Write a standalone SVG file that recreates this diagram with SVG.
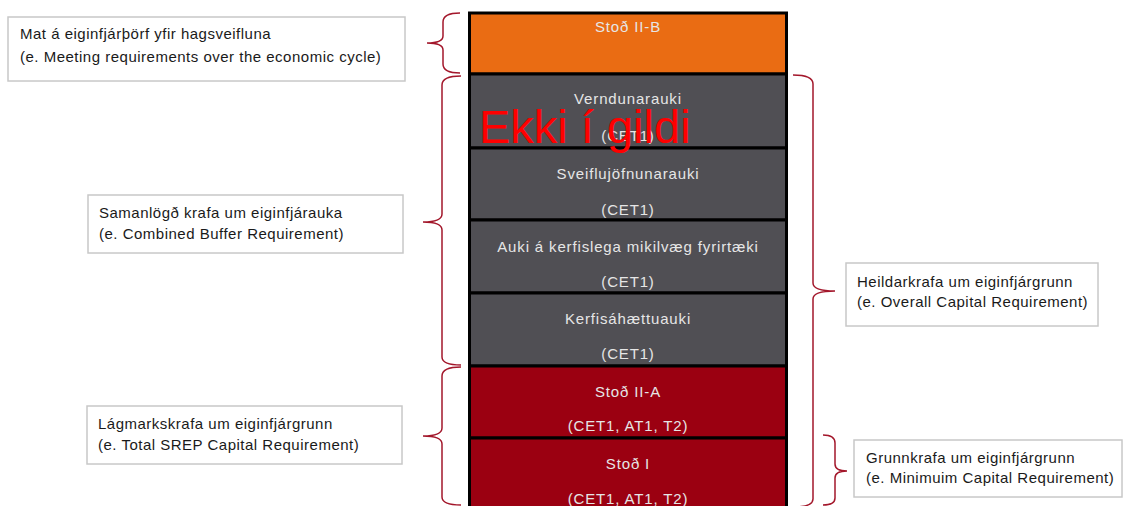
<svg xmlns="http://www.w3.org/2000/svg" width="1123" height="506" viewBox="0 0 1123 506">
<style>
.blk{stroke:#000;stroke-width:3}
.bt{font-family:"Liberation Sans",Arial,sans-serif;font-size:15px;letter-spacing:0.85px;fill:#e6e6e6;text-anchor:middle}
.lbl{fill:#fff;stroke:#c8c8c8;stroke-width:1.5}
.lt{font-family:"Liberation Sans",Arial,sans-serif;font-size:15px;letter-spacing:0.5px;fill:#1a1a1a}
.br{fill:none;stroke:#a3172b;stroke-width:1.5}
</style>
<rect width="1123" height="506" fill="#fff"/>
<g id="stack">
<g id="stod2b"><rect class="blk" x="469.5" y="13" width="317" height="61" fill="#ea6c13"/><text class="bt" x="628" y="32">Stoð II-B</text></g>
<g id="verndunarauki"><rect class="blk" x="469.5" y="74" width="317" height="74" fill="#504f54"/><text class="bt" x="628" y="104">Verndunarauki</text><text class="bt" x="628" y="141">(CET1)</text></g>
<g id="sveiflu"><rect class="blk" x="469.5" y="148" width="317" height="72" fill="#504f54"/><text class="bt" x="628" y="179">Sveiflujöfnunarauki</text><text class="bt" x="628" y="215">(CET1)</text></g>
<g id="auki"><rect class="blk" x="469.5" y="220" width="317" height="73" fill="#504f54"/><text class="bt" x="628" y="252">Auki á kerfislega mikilvæg fyrirtæki</text><text class="bt" x="628" y="287">(CET1)</text></g>
<g id="kerfis"><rect class="blk" x="469.5" y="293" width="317" height="73" fill="#504f54"/><text class="bt" x="628" y="324">Kerfisáhættuauki</text><text class="bt" x="628" y="359">(CET1)</text></g>
<g id="stod2a"><rect class="blk" x="469.5" y="366" width="317" height="72" fill="#9b0011"/><text class="bt" x="628" y="397">Stoð II-A</text><text class="bt" x="628" y="431">(CET1, AT1, T2)</text></g>
<g id="stod1"><rect class="blk" x="469.5" y="438" width="317" height="80" fill="#9b0011"/><text class="bt" x="628" y="469">Stoð I</text><text class="bt" x="628" y="504">(CET1, AT1, T2)</text></g>
</g>
<g id="overlay"><text x="479" y="143" font-family="Liberation Sans,Arial,sans-serif" font-size="47" fill="#ff0000">Ekki í gildi</text></g>
<g id="connectors">
<path class="br" d="M460,13 Q443,13 443,22 L443,36 Q443,43 427,43 Q443,43 443,50 L443,64 Q443,73 460,73"/>
<path class="br" d="M461,76 Q442,76 442,85 L442,214 Q442,222 423,222 Q442,222 442,230 L442,357 Q442,365 461,365"/>
<path class="br" d="M461,367 Q442,367 442,376 L442,428 Q442,436 423,436 Q442,436 442,444 L442,497 Q442,505 461,505"/>
<path class="br" d="M793,75 Q813,75 813,84 L813,283 Q813,291 835,291 Q813,291 813,299 L813,499 Q813,507 793,507"/>
<path class="br" d="M823,435 Q835,435 835,443 L835,464 Q835,471 847,471 Q835,471 835,478 L835,498 Q835,505 823,505"/>
</g>
<g id="label-mat"><rect class="lbl" x="8" y="17" width="397" height="64"/><text class="lt" x="20" y="39">Mat á eiginfjárþörf yfir hagsveifluna</text><text class="lt" x="20" y="62">(e. Meeting requirements over the economic cycle)</text></g>
<g id="label-samanlogd"><rect class="lbl" x="88" y="195" width="315" height="58"/><text class="lt" x="99" y="218">Samanlögð krafa um eiginfjárauka</text><text class="lt" x="99" y="239">(e. Combined Buffer Requirement)</text></g>
<g id="label-lagmarks"><rect class="lbl" x="87" y="406" width="315" height="58"/><text class="lt" x="98" y="429">Lágmarkskrafa um eiginfjárgrunn</text><text class="lt" x="98" y="450">(e. Total SREP Capital Requirement)</text></g>
<g id="label-heildar"><rect class="lbl" x="846" y="263" width="252" height="63"/><text class="lt" x="857" y="287">Heildarkrafa um eiginfjárgrunn</text><text class="lt" x="857" y="307">(e. Overall Capital Requirement)</text></g>
<g id="label-grunn"><rect class="lbl" x="854" y="440" width="268" height="57"/><text class="lt" x="866" y="463">Grunnkrafa um eiginfjárgrunn</text><text class="lt" x="866" y="483">(e. Minimuim Capital Requirement)</text></g>
</svg>
